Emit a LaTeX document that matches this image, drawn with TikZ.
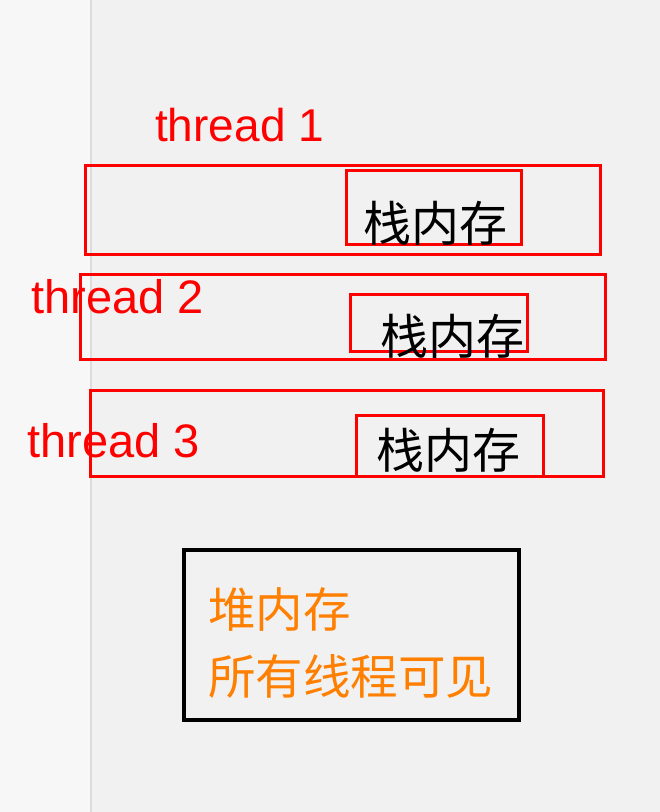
\documentclass[tikz,border=0pt]{standalone}
\usepackage{fontspec}
\setmainfont{Liberation Sans}
\newfontfamily\cjk{Noto Sans CJK SC}
\definecolor{leftbg}{HTML}{F7F7F7}
\definecolor{mainbg}{HTML}{F1F1F1}
\definecolor{divline}{HTML}{DCDCDC}
\definecolor{tred}{HTML}{FF0000}
\definecolor{torange}{HTML}{FF7F00}
\begin{document}
\begin{tikzpicture}[x=1pt,y=-1pt,
  redbox/.style={draw=tred,line width=3pt,inner sep=0pt,outer sep=0pt},
  heapbox/.style={draw=black,line width=3.5pt,inner sep=0pt,outer sep=0pt},
  tlabel/.style={text=tred,font=\fontsize{46}{55}\selectfont,inner sep=0pt,anchor=base west},
  tlabelb/.style={tlabel,font=\fontsize{47}{56}\selectfont},
  cjklabel/.style={text=black,font=\cjk\fontsize{48}{57}\selectfont,inner sep=0pt,anchor=base west},
  heaplabel/.style={text=torange,font=\cjk\fontsize{47.5}{57}\selectfont,inner sep=0pt,anchor=base west}]
\useasboundingbox (0,0) rectangle (660,812);
\fill[leftbg] (0,0) rectangle (91,812);
\fill[mainbg] (91,0) rectangle (660,812);
\draw[divline,line width=1.5pt] (91,0) -- (91,812);
% thread boxes
\node[redbox,minimum width=515pt,minimum height=89pt] (t1) at (342.5,209.5) {};
\node[redbox,minimum width=525pt,minimum height=85pt] (t2) at (342.5,316.5) {};
\node[redbox,minimum width=513pt,minimum height=86pt] (t3) at (346.5,433) {};
\node[redbox,minimum width=175pt,minimum height=74pt] (s1) at (433.5,207) {};
\node[redbox,minimum width=177pt,minimum height=57pt] (s2) at (438.5,322.5) {};
\node[redbox,minimum width=187pt,minimum height=61pt] (s3) at (449.5,445.5) {};
% labels
\node[tlabel] (l1) at (155,141) {thread 1};
\node[tlabelb] (l2) at (31,313) {thread 2};
\node[tlabelb] (l3) at (27,457) {thread 3};
\node[cjklabel] (m1) at (363,241) {栈内存};
\node[cjklabel] (m2) at (380,354) {栈内存};
\node[cjklabel] (m3) at (376,468) {栈内存};
% heap
\node[heapbox,minimum width=335pt,minimum height=170pt] (heap) at (351.5,635) {};
\node[heaplabel] (h1) at (208,627) {堆内存};
\node[heaplabel] (h2) at (208,694) {所有线程可见};
\end{tikzpicture}
\end{document}
